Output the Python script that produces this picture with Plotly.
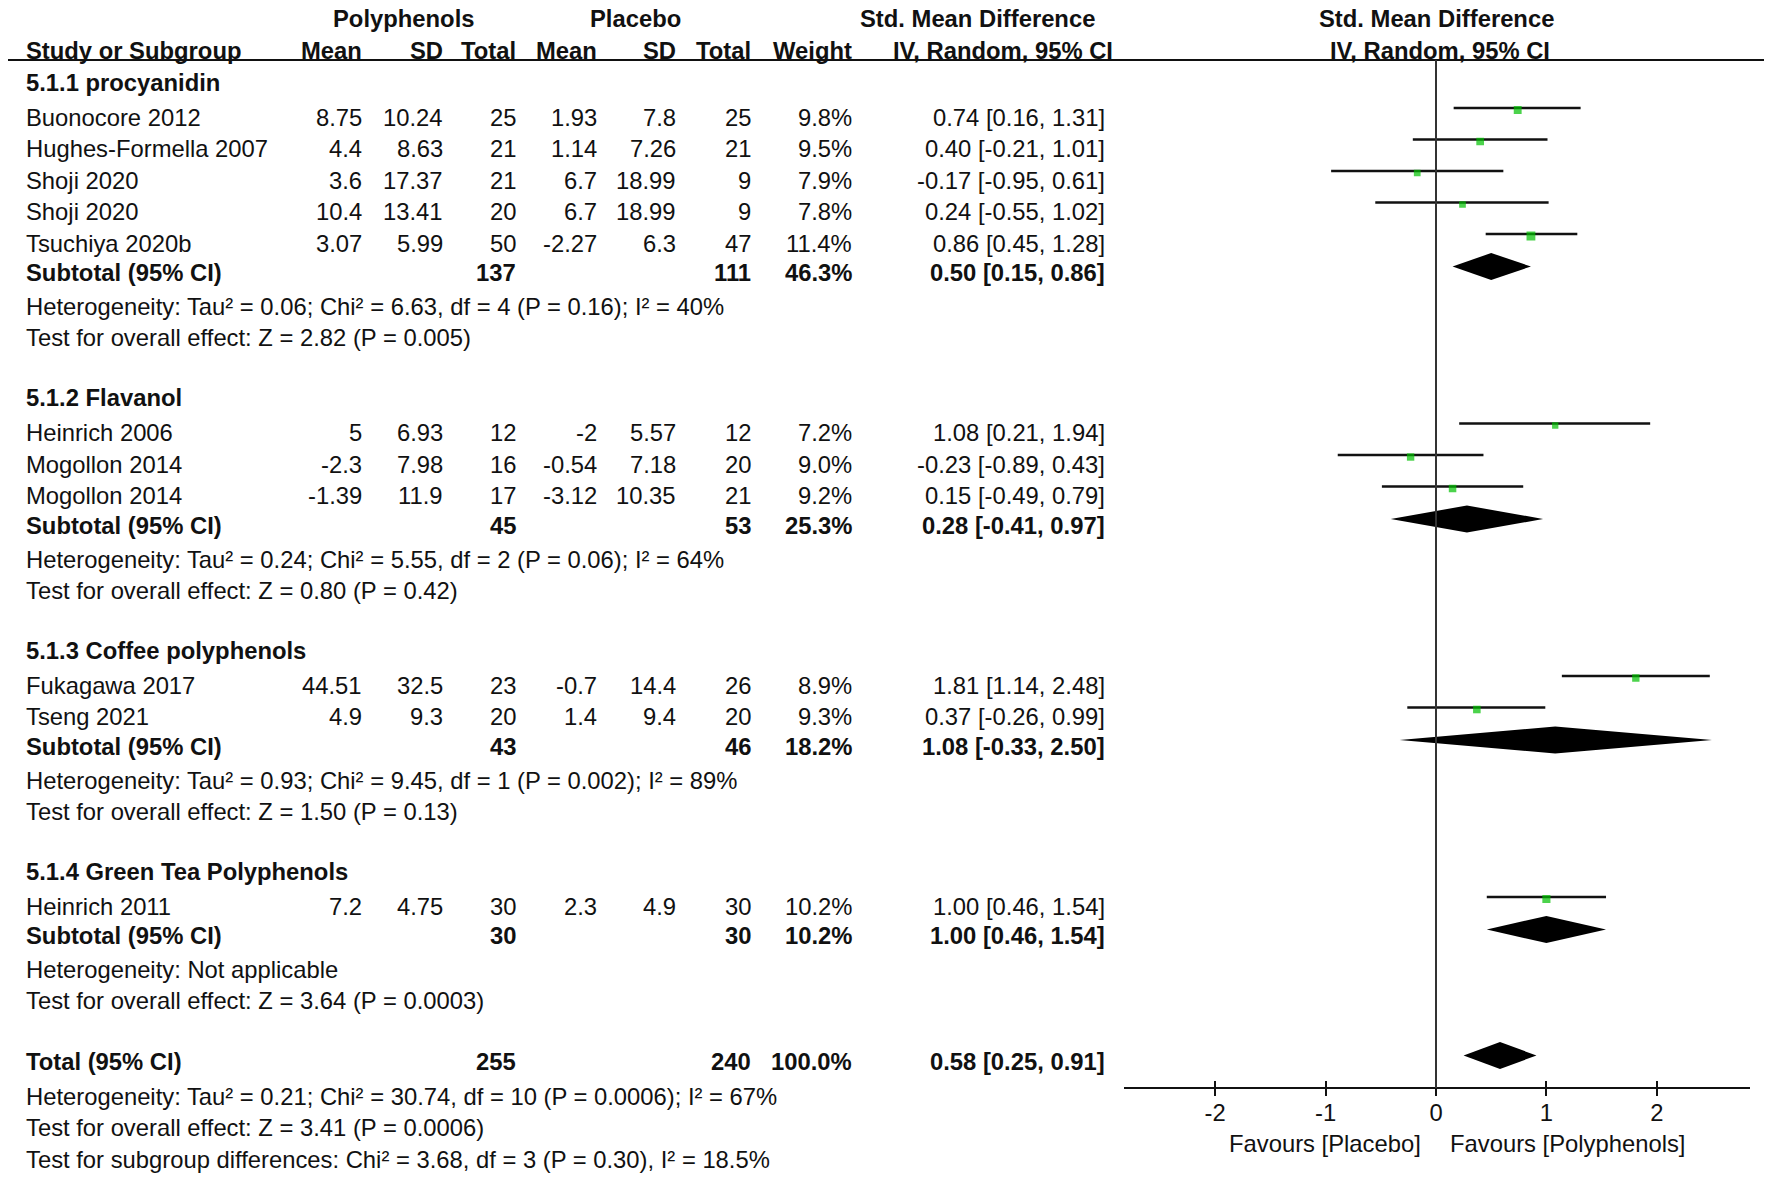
import plotly.graph_objects as go

W, H = 1772, 1182
OFF = 8  # default body margin of the page; figure is shifted to compensate
FW, FH = W - OFF, H - OFF
FONT = "Liberation Sans, Arial, sans-serif"
FS = 23.8
TXT = "#111111"

# ---------------- data ----------------
groups = ["5.1.1 procyanidin", "5.1.2 Flavanol", "5.1.3 Coffee polyphenols",
          "5.1.4 Green Tea Polyphenols"]
group_sizes = [5, 3, 2, 1]

studies = ["Buonocore 2012", "Hughes-Formella 2007", "Shoji 2020", "Shoji 2020",
           "Tsuchiya 2020b", "Heinrich 2006", "Mogollon 2014", "Mogollon 2014",
           "Fukagawa 2017", "Tseng 2021", "Heinrich 2011"]
poly_mean = ["8.75", "4.4", "3.6", "10.4", "3.07", "5", "-2.3", "-1.39", "44.51", "4.9", "7.2"]
poly_sd = ["10.24", "8.63", "17.37", "13.41", "5.99", "6.93", "7.98", "11.9", "32.5", "9.3", "4.75"]
poly_n = [25, 21, 21, 20, 50, 12, 16, 17, 23, 20, 30]
plac_mean = ["1.93", "1.14", "6.7", "6.7", "-2.27", "-2", "-0.54", "-3.12", "-0.7", "1.4", "2.3"]
plac_sd = ["7.8", "7.26", "18.99", "18.99", "6.3", "5.57", "7.18", "10.35", "14.4", "9.4", "4.9"]
plac_n = [25, 21, 9, 9, 47, 12, 20, 21, 26, 20, 30]
weight = [9.8, 9.5, 7.9, 7.8, 11.4, 7.2, 9.0, 9.2, 8.9, 9.3, 10.2]
smd = [0.74, 0.40, -0.17, 0.24, 0.86, 1.08, -0.23, 0.15, 1.81, 0.37, 1.00]
ci_lo = [0.16, -0.21, -0.95, -0.55, 0.45, 0.21, -0.89, -0.49, 1.14, -0.26, 0.46]
ci_hi = [1.31, 1.01, 0.61, 1.02, 1.28, 1.94, 0.43, 0.79, 2.48, 0.99, 1.54]

sub_poly_n = [137, 45, 43, 30]
sub_plac_n = [111, 53, 46, 30]
sub_weight = [46.3, 25.3, 18.2, 10.2]
sub_smd = [0.50, 0.28, 1.08, 1.00]
sub_lo = [0.15, -0.41, -0.33, 0.46]
sub_hi = [0.86, 0.97, 2.50, 1.54]
sub_het = ["Heterogeneity: Tau² = 0.06; Chi² = 6.63, df = 4 (P = 0.16); I² = 40%",
           "Heterogeneity: Tau² = 0.24; Chi² = 5.55, df = 2 (P = 0.06); I² = 64%",
           "Heterogeneity: Tau² = 0.93; Chi² = 9.45, df = 1 (P = 0.002); I² = 89%",
           "Heterogeneity: Not applicable"]
sub_test = ["Test for overall effect: Z = 2.82 (P = 0.005)",
            "Test for overall effect: Z = 0.80 (P = 0.42)",
            "Test for overall effect: Z = 1.50 (P = 0.13)",
            "Test for overall effect: Z = 3.64 (P = 0.0003)"]

total_poly_n = 255
total_plac_n = 240
total_weight = 100.0
total_smd = 0.58
total_lo = 0.25
total_hi = 0.91
total_notes = ["Heterogeneity: Tau² = 0.21; Chi² = 30.74, df = 10 (P = 0.0006); I² = 67%",
               "Test for overall effect: Z = 3.41 (P = 0.0006)",
               "Test for subgroup differences: Chi² = 3.68, df = 3 (P = 0.30), I² = 18.5%"]

x_ticks = [-2, -1, 0, 1, 2]
x_tick_labels = ["-2", "-1", "0", "1", "2"]

# ---------------- layout helpers (page pixel positions) ----------------
COL_X = dict(study=24, pm=364, psd=445, pn=518, qm=599, qsd=678, qn=753, w=854, ci=1107)
X_LEFT_PX, X_RIGHT_PX, ZERO_PX, UNIT_PX = 1123.7, 1750, 1436, 110.4
AXIS_Y = 1088


def px_x(p):
    return (p - OFF) / FW


annotations = []


def txt(s, xpx, y, anchor="left", bold=False, xref="paper", xshift=0):
    annotations.append(dict(
        text=f"<b>{s}</b>" if bold else s,
        x=px_x(xpx) if xref == "paper" else xpx, xref=xref,
        y=y, yref="y", xanchor=anchor, yanchor="middle", showarrow=False,
        xshift=xshift, font=dict(family=FONT, size=FS, color=TXT)))


def ci_text(m, lo, hi):
    return f"{m:.2f} [{lo:.2f}, {hi:.2f}]"


# headers
txt("Polyphenols", 403, 18, "center", True)
txt("Placebo", 635, 18, "center", True)
txt("Std. Mean Difference", 977, 18, "center", True)
txt("IV, Random, 95% CI", 1003, 50, "center", True)
txt("Study or Subgroup", COL_X["study"], 50, "left", True)
for key, lab in [("pm", "Mean"), ("psd", "SD"), ("pn", "Total"), ("qm", "Mean"),
                 ("qsd", "SD"), ("qn", "Total"), ("w", "Weight")]:
    txt(lab, COL_X[key], 50, "right", True)
txt("Std. Mean Difference", 0, 18, "center", True, xref="x")
txt("IV, Random, 95% CI", 0.04, 50, "center", True, xref="x")

# rows
study_y = []
sub_y = []
y = 82
si = 0
for g, n in enumerate(group_sizes):
    if g > 0:
        y += 60
    txt(groups[g], COL_X["study"], y, "left", True)
    y += 35
    for k in range(n):
        if k > 0:
            y += 31.5
        study_y.append(y)
        txt(studies[si], COL_X["study"], y)
        txt(poly_mean[si], COL_X["pm"], y, "right")
        txt(poly_sd[si], COL_X["psd"], y, "right")
        txt(str(poly_n[si]), COL_X["pn"], y, "right")
        txt(plac_mean[si], COL_X["qm"], y, "right")
        txt(plac_sd[si], COL_X["qsd"], y, "right")
        txt(str(plac_n[si]), COL_X["qn"], y, "right")
        txt(f"{weight[si]:.1f}%", COL_X["w"], y, "right")
        txt(ci_text(smd[si], ci_lo[si], ci_hi[si]), COL_X["ci"], y, "right")
        si += 1
    y += 29.5
    sub_y.append(y)
    txt("Subtotal (95% CI)", COL_X["study"], y, "left", True)
    txt(str(sub_poly_n[g]), COL_X["pn"], y, "right", True)
    txt(str(sub_plac_n[g]), COL_X["qn"], y, "right", True)
    txt(f"{sub_weight[g]:.1f}%", COL_X["w"], y, "right", True)
    txt(ci_text(sub_smd[g], sub_lo[g], sub_hi[g]), COL_X["ci"], y, "right", True)
    y += 34
    txt(sub_het[g], COL_X["study"], y)
    y += 31
    txt(sub_test[g], COL_X["study"], y)

y += 61
total_y = y
txt("Total (95% CI)", COL_X["study"], y, "left", True)
txt(str(total_poly_n), COL_X["pn"], y, "right", True)
txt(str(total_plac_n), COL_X["qn"], y, "right", True)
txt(f"{total_weight:.1f}%", COL_X["w"], y, "right", True)
txt(ci_text(total_smd, total_lo, total_hi), COL_X["ci"], y, "right", True)
y += 35
txt(total_notes[0], COL_X["study"], y)
y += 31
txt(total_notes[1], COL_X["study"], y)
y += 32
txt(total_notes[2], COL_X["study"], y)

# favours labels
txt("Favours [Placebo]", 0, 1143, "right", xref="x", xshift=-13)
txt("Favours [Polyphenols]", 0, 1143, "left", xref="x", xshift=12)

# ---------------- traces ----------------
fig = go.Figure()

LINE_DY, SQ_DY, DIA_DY, DIA_H = -9, -7, -6, 13.5

lx, ly = [], []
for lo, hi, yy in zip(ci_lo, ci_hi, study_y):
    lx += [lo, hi, None]
    ly += [yy + LINE_DY, yy + LINE_DY, None]
fig.add_trace(go.Scatter(x=lx, y=ly, mode="lines", line=dict(color="#111111", width=2.4),
                         hoverinfo="skip", showlegend=False))

fig.add_trace(go.Scatter(x=smd, y=[yy + SQ_DY for yy in study_y], mode="markers",
                         marker=dict(symbol="square", color="#00c000",
                                     size=[2 + 0.6 * w for w in weight], line=dict(width=0)),
                         showlegend=False, hoverinfo="skip"))

dia_list = list(zip(sub_smd, sub_lo, sub_hi, sub_y)) + [(total_smd, total_lo, total_hi, total_y)]
for m, lo, hi, yy in dia_list:
    yc = yy + DIA_DY
    fig.add_trace(go.Scatter(x=[lo, m, hi, m, lo], y=[yc, yc - DIA_H, yc, yc + DIA_H, yc],
                             mode="lines", fill="toself", fillcolor="#000000",
                             line=dict(width=0, color="#000000"),
                             showlegend=False, hoverinfo="skip"))

# invisible trace on overlay axis so it is drawn
fig.add_trace(go.Scatter(x=[0], y=[AXIS_Y], xaxis="x2", mode="markers",
                         marker=dict(opacity=0), showlegend=False, hoverinfo="skip"))

xr = [(X_LEFT_PX - ZERO_PX) / UNIT_PX, (X_RIGHT_PX - ZERO_PX) / UNIT_PX]
xdom = [px_x(X_LEFT_PX), px_x(X_RIGHT_PX)]
axis_pos = (H - AXIS_Y) / FH

fig.update_layout(
    width=FW, height=FH, margin=dict(l=0, r=0, t=0, b=0),
    paper_bgcolor="white", plot_bgcolor="white",
    xaxis=dict(domain=xdom, range=xr, anchor="free", position=axis_pos,
               showline=True, linecolor="#111111", linewidth=2,
               ticks="outside", ticklen=7, tickwidth=2, tickcolor="#111111",
               ticklabelstandoff=-4,
               tickvals=x_ticks, ticktext=x_tick_labels, showgrid=False, zeroline=False,
               tickfont=dict(family=FONT, size=FS, color=TXT), fixedrange=True),
    xaxis2=dict(domain=xdom, range=xr, anchor="free", position=axis_pos, overlaying="x",
                showline=False, ticks="inside", ticklen=7, tickwidth=2, tickcolor="#111111",
                tickvals=x_ticks, showticklabels=False, showgrid=False, zeroline=False,
                fixedrange=True),
    yaxis=dict(domain=[0, 1], range=[H, OFF], visible=False, fixedrange=True),
    annotations=annotations,
    shapes=[
        dict(type="line", xref="paper", yref="y", x0=px_x(3), x1=px_x(1771), y0=60, y1=60,
             line=dict(color="#111111", width=2)),
        dict(type="line", xref="x", yref="y", x0=0, x1=0, y0=60, y1=AXIS_Y,
             line=dict(color="#333333", width=2)),
    ],
    showlegend=False,
)

fig.write_html("out.html")
